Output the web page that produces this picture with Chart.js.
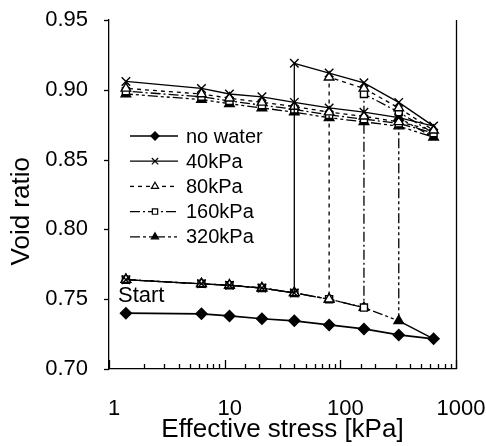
<!DOCTYPE html>
<html>
<head>
<meta charset="utf-8">
<script src="https://cdn.jsdelivr.net/npm/chart.js@4.4.1/dist/chart.umd.min.js"></script>
<style>
  html, body { margin: 0; padding: 0; background: #ffffff; }
  #wrap { width: 486px; height: 446px; }
</style>
</head>
<body>
<div id="wrap"><canvas id="c" width="486" height="446"></canvas></div>
<script>
// ---- data ----
const stress = [1.4, 6.3, 11, 21, 40, 80, 160, 320, 640];            // kPa
const noWater = [0.740, 0.7395, 0.738, 0.736, 0.7345, 0.7316, 0.7287, 0.7244, 0.7216];
const loadBeforeWetting = [0.764, 0.761, 0.760, 0.758, 0.7545, 0.750, 0.744, 0.7345]; // shared start curve, 1.4..320
const tailStress = [320, 640];
const tailValues = [0.7345, 0.7216];

const seriesNames = ["no water", "40kPa", "80kPa", "160kPa", "320kPa"];
const wettingStress = [40, 80, 160, 320];
// loading after wetting, from the wetting stress up to 640
const after40 = [0.919, 0.912, 0.905, 0.891, 0.874];
const after80 = [0.909, 0.901, 0.887, 0.871];
const after160 = [0.897, 0.884, 0.869];
const after320 = [0.880, 0.866];
// unloading from 320 back down to 1.4
const unload40 = [0.880, 0.884, 0.887, 0.891, 0.895, 0.897, 0.901, 0.906];
const unload80 = [0.877, 0.881, 0.884, 0.888, 0.891, 0.894, 0.897, 0.901];
const unload160 = [0.876, 0.879, 0.882, 0.886, 0.889, 0.892, 0.895, 0.899];
const unload320 = [0.874, 0.877, 0.880, 0.884, 0.887, 0.890, 0.893, 0.897];

const xTickLabels = ["1", "10", "100", "1000"];
const yTickLabels = ["0.70", "0.75", "0.80", "0.85", "0.90", "0.95"];
const yTitle = "Void ratio";
const xTitle = "Effective stress [kPa]";

// ---- build paths ----
function wetPath(wetKpa, after, unload) {
  const pts = [];
  const wi = stress.indexOf(wetKpa);
  for (let i = 0; i <= wi; i++) pts.push({x: stress[i], y: loadBeforeWetting[i]});
  for (let j = 0; j < after.length; j++) pts.push({x: stress[wi + j], y: after[j]});
  for (let k = 0; k < unload.length; k++) pts.push({x: stress[7 - k], y: unload[k]});
  return pts;
}
const FONT = "'Liberation Sans', Arial, sans-serif";
const styles = [
  {pointStyle: 'rectRot', radius: 5.5, fill: '#000', dash: [], width: 1.7},
  {pointStyle: 'crossRot', radius: 6, fill: '#000', dash: [], width: 1.3},
  {pointStyle: 'triangle', radius: 5.5, fill: '#fff', dash: [4, 4], width: 1.3},
  {pointStyle: 'rect', radius: 5, fill: '#fff', dash: [10, 3, 2, 3], width: 1.3},
  {pointStyle: 'triangle', radius: 5.5, fill: '#000', dash: [10, 3, 3, 3, 3, 3], width: 1.3}
];
const paths = [
  stress.map((s, i) => ({x: s, y: noWater[i]})),
  wetPath(wettingStress[0], after40, unload40),
  wetPath(wettingStress[1], after80, unload80),
  wetPath(wettingStress[2], after160, unload160),
  wetPath(wettingStress[3], after320, unload320)
];
const datasets = paths.map((p, i) => ({
  label: seriesNames[i],
  data: p,
  showLine: true,
  borderColor: '#000',
  borderWidth: styles[i].width,
  borderDash: styles[i].dash,
  pointStyle: styles[i].pointStyle,
  pointRadius: styles[i].radius,
  pointBackgroundColor: styles[i].fill,
  pointBorderColor: '#000',
  pointBorderWidth: 1.4,
  tension: 0
}));
datasets.push({
  label: 'tail',
  data: tailStress.map((s, i) => ({x: s, y: tailValues[i]})),
  showLine: true, borderColor: '#000', borderWidth: 1.5, pointRadius: 0
});

// ---- plugin: inside legend, "Start" note, y title, tick marks, right frame ----
const decor = {
  id: 'decor',
  afterDraw(chart) {
    const ctx = chart.ctx;
    const xs = chart.scales.x, ys = chart.scales.y;
    const area = chart.chartArea;
    ctx.save();
    ctx.strokeStyle = '#000';
    ctx.lineWidth = 1.3;
    ctx.setLineDash([]);
    // right frame
    ctx.beginPath();
    ctx.moveTo(area.right + 0.5, area.top);
    ctx.lineTo(area.right + 0.5, area.bottom);
    ctx.stroke();
    // inner x ticks
    xs.ticks.forEach(t => {
      const px = xs.getPixelForValue(t.value);
      const lg = Math.log10(t.value);
      const major = Math.abs(lg - Math.round(lg)) < 1e-9;
      ctx.beginPath();
      ctx.moveTo(Math.round(px) + 0.5, area.bottom);
      ctx.lineTo(Math.round(px) + 0.5, area.bottom - (major ? 9 : 5));
      ctx.stroke();
    });
    // outer y ticks
    ys.ticks.forEach(t => {
      const py = Math.round(ys.getPixelForValue(t.value)) + 0.5;
      ctx.beginPath();
      ctx.moveTo(area.left, py);
      ctx.lineTo(area.left - 5, py);
      ctx.stroke();
    });
    // legend
    const lx0 = 130, lx1 = 178, mx = 155, tx = 186, ly0 = 136, dy = 25.2;
    ctx.font = '20px ' + FONT;
    ctx.textBaseline = 'middle';
    ctx.textAlign = 'left';
    chart.data.datasets.slice(0, 5).forEach((ds, i) => {
      const y = ly0 + i * dy;
      ctx.save();
      ctx.strokeStyle = '#000';
      ctx.lineWidth = ds.borderWidth;
      ctx.setLineDash(ds.borderDash || []);
      ctx.beginPath();
      ctx.moveTo(lx0, y); ctx.lineTo(lx1, y);
      ctx.stroke();
      ctx.restore();
      ctx.save();
      ctx.fillStyle = ds.pointBackgroundColor;
      ctx.strokeStyle = '#000';
      ctx.lineWidth = 1.2;
      ctx.setLineDash([]);
      Chart.helpers.drawPoint(ctx, {pointStyle: ds.pointStyle, radius: ds.pointRadius * 0.75, borderWidth: 1.2, rotation: 0}, mx, y);
      ctx.restore();
      ctx.fillStyle = '#000';
      ctx.fillText(ds.label, tx, y + 1);
    });
    // Start note
    ctx.font = '22px ' + FONT;
    ctx.fillStyle = '#000';
    ctx.fillText('Start', xs.left + 9, ys.getPixelForValue(0.7525));
    // y axis title
    ctx.save();
    ctx.translate(22, ys.getPixelForValue(0.813));
    ctx.rotate(-Math.PI / 2);
    ctx.font = '26px ' + FONT;
    ctx.textAlign = 'center';
    ctx.textBaseline = 'middle';
    ctx.fillText(yTitle, 0, 0);
    ctx.restore();
    ctx.restore();
  }
};

new Chart(document.getElementById('c'), {
  type: 'scatter',
  data: {datasets},
  options: {
    responsive: false,
    animation: false,
    devicePixelRatio: 1,
    layout: {padding: {left: 0, right: 30, top: 20, bottom: 0}},
    plugins: {legend: {display: false}, tooltip: {enabled: false}},
    scales: {
      x: {
        type: 'logarithmic',
        min: 1, max: 1000,
        afterFit(scale) { scale.height = 77; },
        grid: {display: false, drawTicks: true, tickLength: 27},
        border: {display: true, color: '#000', width: 1.3},
        ticks: {
          autoSkip: false, maxRotation: 0, padding: 0, labelOffset: 5,
          color: '#000', font: {family: FONT, size: 22},
          callback(v) {
            const lg = Math.log10(v);
            if (Math.abs(lg - Math.round(lg)) < 1e-9) return xTickLabels[Math.round(lg)];
            return '';
          }
        },
        title: {display: true, text: xTitle, color: '#000',
                font: {family: FONT, size: 26}, padding: {top: 0, bottom: 1}}
      },
      y: {
        min: 0.70, max: 0.95,
        afterFit(scale) { scale.width = 109; },
        grid: {display: false, drawTicks: true, tickLength: 21},
        border: {display: true, color: '#000', width: 1.3},
        ticks: {
          stepSize: 0.05, padding: 0, color: '#000',
          font: {family: FONT, size: 22},
          callback(v) {
            const i = Math.round((v - 0.70) / 0.05);
            return yTickLabels[i];
          }
        },
        title: {display: false}
      }
    }
  },
  plugins: [decor]
});
</script>
</body>
</html>
